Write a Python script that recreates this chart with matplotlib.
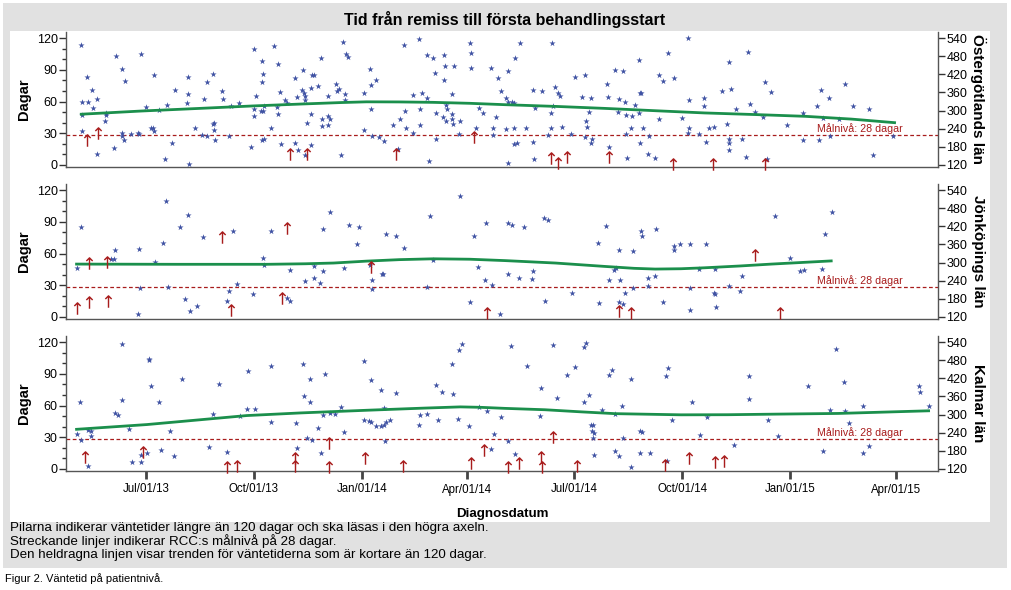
import numpy as np
import matplotlib
matplotlib.use('Agg')
import matplotlib.pyplot as plt
import matplotlib.dates as mdates
from matplotlib.patches import Rectangle
from matplotlib.ticker import MultipleLocator, FixedLocator

plt.rcParams['font.family'] = ['Liberation Sans', 'DejaVu Sans']

# Diagnosdatum stored as days after 2013-02-27
BASE = np.datetime64('2013-02-27')

# ---- Östergötlands län ----
ost_stars = [
    (69, 113), (70, 60), (70, 47), (70, 32), (74, 83), (75, 60), (78, 71), (79, 54), (82, 10), (82, 62),
    (90, 47), (90, 49), (89, 42), (97, 16), (99, 103), (104, 91), (104, 27), (105, 24), (104, 30), (106, 79),
    (111, 29), (117, 30), (118, 29), (120, 105), (124, 55), (128, 35), (130, 35), (131, 32), (131, 85), (135, 52),
    (140, 6), (142, 57), (146, 21), (149, 71), (160, 83), (160, 67), (159, 59), (161, 1), (166, 35), (172, 28),
    (174, 62), (176, 27), (176, 78), (181, 86), (182, 40), (182, 33), (181, 39), (183, 24), (189, 70), (190, 62),
    (195, 27), (197, 56), (203, 59), (214, 17), (216, 110), (216, 46), (216, 53), (218, 65), (223, 78), (223, 98),
    (224, 51), (222, 51), (223, 24), (225, 25), (224, 86), (225, 56), (231, 35), (233, 112), (237, 95), (238, 69),
    (237, 48), (236, 55), (239, 20), (243, 61), (244, 59), (251, 82), (251, 21), (253, 64), (254, 14), (258, 90),
    (257, 71), (259, 68), (260, 65), (260, 61), (261, 40), (260, 9), (265, 19), (265, 48), (266, 85), (267, 85),
    (265, 73), (271, 75), (273, 101), (274, 37), (274, 43), (279, 38), (279, 46), (281, 43), (279, 65), (286, 77),
    (287, 70), (289, 72), (290, 9), (292, 116), (294, 67), (294, 61), (295, 105), (296, 102), (310, 68), (310, 33),
    (315, 91), (316, 53), (316, 76), (317, 27), (320, 80), (323, 26), (327, 23), (335, 38), (339, 15), (341, 43),
    (344, 113), (345, 51), (346, 35), (352, 66), (352, 30), (357, 119), (358, 53), (358, 38), (359, 68), (364, 63),
    (364, 104), (365, 4), (369, 101), (370, 87), (371, 49), (371, 25), (378, 104), (379, 94), (378, 80), (377, 45),
    (380, 57), (381, 53), (380, 42), (385, 67), (385, 48), (385, 43), (386, 39), (387, 94), (391, 29), (392, 42),
    (400, 115), (401, 106), (401, 92), (405, 35), (408, 54), (411, 49), (418, 92), (420, 35), (420, 28), (422, 45),
    (424, 82), (427, 70),
    (433, 89), (431, 63), (433, 60), (436, 60), (438, 59), (443, 115), (439, 101), (431, 34), (438, 35), (448, 35),
    (438, 20), (440, 21), (433, 2), (454, 71), (462, 70), (456, 54), (454, 22), (455, 6), (470, 115), (473, 74),
    (475, 68), (477, 65), (471, 56), (469, 49), (469, 35), (467, 28), (479, 36), (486, 29), (490, 83), (498, 85),
    (496, 64), (503, 63), (502, 50), (499, 42), (500, 36), (498, 26), (504, 25), (503, 21), (517, 77), (518, 64),
    (519, 17), (524, 90), (531, 89), (527, 62), (532, 60), (526, 50), (533, 47), (538, 46), (533, 29), (534, 7),
    (537, 35), (541, 57), (544, 99), (545, 68), (546, 68), (545, 21), (544, 49), (548, 35), (552, 10), (558, 7),
    (553, 27), (561, 43), (561, 85), (565, 79), (569, 106), (574, 82), (581, 44), (586, 120), (587, 61), (587, 35),
    (586, 30), (595, 29), (600, 63), (600, 56), (601, 22), (604, 35), (608, 36), (615, 70), (621, 97), (623, 72),
    (619, 39), (621, 25), (621, 21), (621, 14), (627, 53), (632, 25), (635, 8), (637, 107), (639, 58), (643, 50),
    (652, 78), (650, 45), (657, 69), (653, 6), (670, 38), (684, 49), (684, 24), (696, 56), (699, 71), (698, 24),
    (701, 44), (706, 63), (707, 27), (715, 43), (720, 77), (727, 56), (740, 53), (744, 9), (761, 27),
]
ost_arrows = [
    (74, 203), (83, 226), (247, 155), (261, 155), (337, 155), (404, 214),
    (469, 142), (475, 126), (483, 148), (519, 148), (573, 124), (607, 124), (652, 124),
]
ost_trend = [(69, 48), (120, 51), (170, 53.5), (215, 55.8), (256, 57.6), (290, 59), (312, 59.7), (340, 59.6),
             (369, 59.2), (400, 58.3), (430, 57), (475, 55.3), (515, 53.5), (560, 51.2), (600, 49.2),
             (645, 47.6), (686, 46), (725, 43.4), (762, 40)]

# ---- Jönköpings län ----
jon_stars = [
    (65, 46), (69, 85), (94, 55), (97, 55), (98, 63), (118, 64), (119, 27), (117, 3), (132, 52), (139, 70),
    (141, 110), (143, 28), (153, 85), (157, 17), (160, 96), (162, 6), (168, 10), (173, 76), (193, 15), (195, 25),
    (198, 81), (202, 31), (215, 22), (224, 56), (225, 49), (231, 81), (244, 18), (247, 15), (247, 44), (260, 34),
    (267, 48), (267, 37), (272, 32), (275, 83), (275, 43), (281, 99), (293, 46), (297, 87), (304, 69), (306, 85),
    (315, 49), (317, 35), (317, 26), (325, 41), (326, 41), (329, 78), (337, 77), (344, 65), (364, 28), (366, 95),
    (369, 54), (392, 114), (400, 14), (404, 77), (407, 47), (413, 35), (414, 89), (419, 30), (426, 3),
    (433, 89), (436, 87), (433, 41), (442, 37), (446, 85), (454, 43), (453, 36), (463, 94), (467, 92), (464, 15),
    (487, 23), (509, 70), (510, 13), (516, 86), (519, 35), (523, 44), (525, 46), (527, 63), (528, 35), (527, 14),
    (531, 12), (532, 23), (539, 62), (539, 27), (546, 81), (547, 77), (552, 37), (558, 39), (552, 29), (559, 83),
    (565, 14), (574, 67), (574, 63), (579, 69), (588, 69), (588, 27), (588, 7), (595, 45), (601, 69), (608, 23),
    (609, 22), (609, 45), (610, 9), (621, 29), (630, 25), (632, 39), (660, 95), (673, 56), (681, 43), (685, 44),
    (700, 45), (703, 78), (709, 99),
]
jon_arrows = [
    (65, 150), (76, 299), (76, 169), (91, 302), (92, 173), (189, 383), (197, 144), (240, 183), (244, 414),
    (316, 285), (415, 133), (527, 139), (537, 133), (643, 324), (664, 134),
]
jon_trend = [(65, 50), (150, 49.8), (227, 49.8), (260, 50.3), (284, 51), (312, 52.8), (340, 54.2), (369, 55),
             (400, 54.6), (430, 53.3), (473, 51), (515, 47.8), (540, 46), (558, 45.3), (580, 45.6),
             (600, 46.5), (630, 48.2), (657, 50), (708, 53)]

# ---- Kalmar län ----
kal_stars = [
    (65, 33), (68, 63), (69, 27), (75, 37), (77, 36), (77, 31), (75, 3), (98, 53), (100, 51), (104, 118),
    (104, 65), (110, 38), (112, 7), (120, 7), (120, 13), (125, 15), (127, 104), (127, 103), (128, 78), (135, 63),
    (137, 18), (145, 36), (148, 12), (155, 85), (178, 21), (181, 52), (186, 80), (193, 16), (204, 50), (211, 93),
    (210, 57), (217, 57), (231, 97), (231, 44), (252, 43), (253, 20), (258, 99), (259, 69), (264, 63), (261, 29),
    (264, 85), (266, 27), (271, 39), (273, 15), (275, 51), (277, 90), (281, 53), (285, 52), (290, 59), (293, 35),
    (310, 102), (310, 46), (314, 45), (316, 44), (316, 84), (320, 41), (324, 41), (324, 75), (327, 58), (327, 42),
    (329, 44), (328, 26), (332, 46), (337, 72), (357, 42), (358, 51), (364, 52), (371, 79), (373, 46), (376, 73),
    (385, 99), (386, 71), (390, 47), (391, 112), (393, 118), (399, 41), (408, 59), (415, 55), (418, 19), (421, 33),
    (427, 49),
    (433, 26), (435, 116), (439, 14), (449, 97), (461, 77), (460, 50), (471, 117), (474, 67), (483, 89), (490, 96),
    (497, 115), (499, 119), (497, 63), (502, 70), (503, 42), (505, 42), (504, 36), (506, 34), (505, 29), (506, 13),
    (513, 56), (519, 89), (521, 94), (524, 52), (524, 17), (527, 12), (530, 60), (531, 29), (537, 85), (537, 2),
    (545, 36), (547, 35), (545, 15), (554, 15), (567, 88), (569, 95), (568, 8), (572, 46), (589, 63), (596, 32),
    (602, 49), (625, 23), (638, 88), (638, 66), (654, 46), (663, 31), (688, 78), (701, 17), (707, 56), (712, 113),
    (719, 82), (720, 55), (723, 43), (735, 60), (735, 15), (740, 22), (783, 78), (784, 73), (791, 60),
]
kal_arrows = [
    (72, 161), (122, 177), (193, 125), (202, 130), (251, 158), (251, 130), (280, 126), (280, 206), (311, 156),
    (343, 130), (401, 139), (412, 183),
    (433, 127), (442, 141), (461, 161), (462, 127), (471, 225), (491, 130), (566, 133), (587, 158), (609, 144),
    (617, 146),
]
kal_trend = [(65, 37.5), (125, 42), (170, 46.5), (210, 50.5), (256, 53), (312, 55.5), (360, 57.5), (392, 58.7),
             (409, 58.3), (430, 57.3), (464, 56), (495, 54), (524, 52.3), (580, 51.2), (620, 51.3),
             (657, 51.8), (714, 52.5), (791, 55)]

regions = ['Östergötlands län', 'Jönköpings län', 'Kalmar län']
panels = [(ost_stars, ost_arrows, ost_trend),
          (jon_stars, jon_arrows, jon_trend),
          (kal_stars, kal_arrows, kal_trend)]

target_days = 28
quarter_ticks = ['2013-07-01', '2013-10-01', '2014-01-01', '2014-04-01',
                 '2014-07-01', '2014-10-01', '2015-01-01', '2015-04-01']


def to_dates(days):
    return BASE + np.array(days, dtype=float).round().astype('timedelta64[D]')


W, H = 1011, 590
fig = plt.figure(figsize=(W / 100, H / 100), dpi=100)


def box(x0, y0, x1, y1):
    return [x0 / W, 1 - y1 / H, (x1 - x0) / W, (y1 - y0) / H]


def rect(x0, y0, x1, y1, color):
    fig.add_artist(Rectangle((x0 / W, 1 - y1 / H), (x1 - x0) / W, (y1 - y0) / H,
                             transform=fig.transFigure, fc=color, ec='none', zorder=-10))


rect(3, 3, 1007, 568, '#e1e1e1')
rect(10, 31, 990, 522, 'white')

STAR = '#3f52a3'
ARROW = '#a81c1c'
GREEN = '#1b8f4c'
SPINE = '#555555'

xmin = BASE + np.timedelta64(56, 'D')
xmax = BASE + np.timedelta64(799, 'D')
ylo, yhi = -1.9, 125.7

tops = [(32, 167), (184, 319), (336, 471)]
for i, ((stars, arrows, trend), name, (t, b)) in enumerate(zip(panels, regions, tops)):
    ax = fig.add_axes(box(66, t, 938, b))
    ax.set_facecolor('none')
    ax2 = ax.twinx()

    sd, sv = zip(*stars)
    ad, av = zip(*arrows)
    td, tv = zip(*trend)

    ax.scatter(to_dates(sd), sv, marker='*', s=22, color=STAR, linewidths=0, zorder=3)
    ax.plot(to_dates(td), tv, color=GREEN, lw=2, zorder=4)
    ax.axhline(target_days, color=ARROW, lw=0.9, ls=(0, (3, 2)), zorder=2)
    ax.text(BASE + np.timedelta64(696, 'D'), target_days + 1.2, 'Målnivå: 28 dagar',
            color=ARROW, fontsize=7.7, ha='left', va='bottom', zorder=5)
    ax2.plot(to_dates(ad), av, ls='none', marker='$↑$', ms=9, color=ARROW,
             markeredgewidth=0, clip_on=False, zorder=5)

    ax.set_xlim(xmin, xmax)
    ax.set_ylim(ylo, yhi)
    ax2.set_ylim(120 + 3.5 * ylo, 120 + 3.5 * yhi)

    ax.yaxis.set_major_locator(FixedLocator([0, 30, 60, 90, 120]))
    ax.yaxis.set_minor_locator(MultipleLocator(10))
    ax2.yaxis.set_major_locator(FixedLocator([120, 180, 240, 300, 360, 420, 480, 540]))

    for a in (ax, ax2):
        a.spines['top'].set_visible(False)
        for s in a.spines.values():
            s.set_color(SPINE)
            s.set_linewidth(1)
    ax.spines['right'].set_visible(False)
    ax2.spines['left'].set_visible(False)
    ax2.spines['bottom'].set_visible(False)

    ax.tick_params(axis='y', which='major', length=5, width=1, color='#333333', labelsize=9, pad=1)
    ax.tick_params(axis='y', which='minor', length=3, width=1, color='#333333')
    ax2.tick_params(axis='y', length=5, width=1, color='#333333', labelsize=9, pad=1)

    ax.set_ylabel('Dagar', fontsize=10.5, fontweight='bold', labelpad=4)
    fig.text(978 / W, 1 - (t + b) / 2 / H, name, rotation=270, ha='center', va='center',
             fontsize=11, fontweight='bold')

    if i < 2:
        ax.tick_params(axis='x', bottom=False, labelbottom=False)
    else:
        ax.set_xticks([np.datetime64(d) for d in quarter_ticks])
        ax.xaxis.set_major_formatter(mdates.DateFormatter('%b/%d/%y'))
        ax.tick_params(axis='x', length=6, width=2, color='#444444', labelsize=8.3, pad=3)
        ax.set_xlabel('Diagnosdatum', fontsize=9.6, fontweight='bold', labelpad=9)
    ax2.tick_params(axis='x', bottom=False, labelbottom=False)

fig.text(505 / W, 1 - 20 / H, 'Tid från remiss till första behandlingsstart',
         ha='center', va='center', fontsize=11.5, fontweight='bold')

notes = ['Pilarna indikerar väntetider längre än 120 dagar och ska läsas i den högra axeln.',
         'Streckande linjer indikerar RCC:s målnivå på 28 dagar.',
         'Den heldragna linjen visar trenden för väntetiderna som är kortare än 120 dagar.']
for k, line in enumerate(notes):
    fig.text(10 / W, 1 - (528 + 13.5 * k) / H, line, ha='left', va='center', fontsize=9.6)

fig.text(5 / W, 1 - 579 / H, 'Figur 2. Väntetid på patientnivå.', ha='left', va='center', fontsize=8)

fig.savefig('out.png', dpi=100)
